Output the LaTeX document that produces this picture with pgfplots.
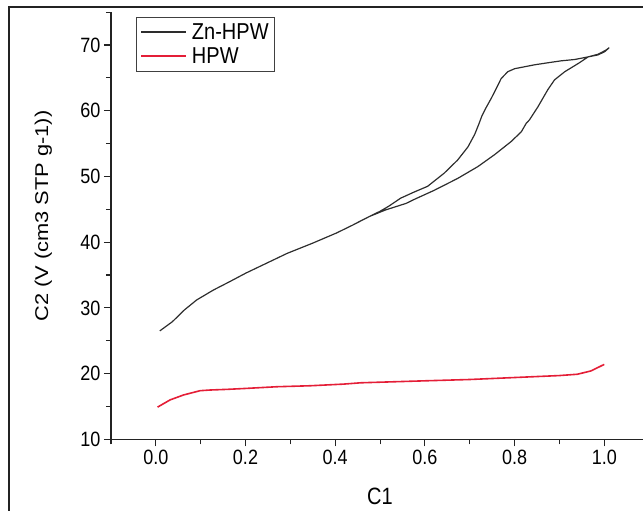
\documentclass[border=0pt]{standalone}
\usepackage{fontspec}
\setmainfont{Liberation Sans}
\usepackage{graphicx}
\usepackage{pgfplots}
\pgfplotsset{compat=1.18}

\definecolor{curvegray}{RGB}{45,45,45}
\definecolor{curvered}{RGB}{228,30,55}
\definecolor{framegray}{RGB}{35,35,35}

% the screenshot is stretched a little in height
\newcommand{\tall}[1]{\scalebox{1}[1.15]{#1}}

\begin{document}
\begin{tikzpicture}
\useasboundingbox (0,0) rectangle (643pt,511pt);
\clip (0,0) rectangle (643pt,511pt);
% outer frame of the screenshot
\draw[framegray, line width=1.6pt] (9pt,-5pt) -- (9pt,504pt) -- (660pt,504pt);
\begin{axis}[
  scale only axis,
  at={(110.95pt,71.7pt)}, anchor=south west,
  width=538.2pt, height=427.1pt,
  xmin=-0.1, xmax=1.1, ymin=10, ymax=75,
  axis x line*=bottom, axis y line*=left,
  axis line style={line width=1.1pt, framegray},
  tick align=outside,
  xtick={0,0.2,...,1.0},
  minor xtick={-0.1,0.1,0.3,0.5,0.7,0.9,1.1},
  ytick={10,20,...,70},
  minor ytick={15,25,...,75},
  major tick length=7pt, minor tick length=5pt,
  tick style={line width=1.1pt, framegray},
  xticklabel={\tall{\pgfmathprintnumber[fixed,fixed zerofill,precision=1,assume math mode=true]{\tick}}},
  yticklabel={\tall{\pgfmathprintnumber[assume math mode=true]{\tick}}},
  tick label style={font=\fontsize{18}{20}\selectfont},
  legend style={at={(0.0465,0.989)}, anchor=north west, draw=black!75,
                line width=0.8pt, font=\fontsize{20}{22}\selectfont,
                inner xsep=4pt, inner ysep=4pt, row sep=3pt,
                nodes={inner sep=2pt},
                /tikz/every odd column/.append style={column sep=3pt}},
  legend cell align=left,
  legend image code/.code={\draw[#1] (0pt,0pt) -- (45pt,0pt);},
]
\addplot[curvegray, line width=1.2pt] coordinates {
  (0.009,26.5) (0.037,27.9) (0.064,29.7) (0.091,31.2) (0.128,32.7)
  (0.165,34.0) (0.201,35.3) (0.247,36.8) (0.293,38.3) (0.348,39.8)
  (0.403,41.4) (0.439,42.6) (0.476,43.9) (0.512,44.9) (0.558,45.9)
  (0.576,46.5) (0.621,47.9) (0.673,49.7) (0.718,51.5) (0.755,53.3)
  (0.792,55.3) (0.815,56.8) (0.826,58.1) (0.833,58.6) (0.852,60.6)
  (0.874,63.2) (0.889,64.7) (0.912,65.95) (0.942,67.2) (0.964,68.2)
  (0.986,68.5) (1.001,69.0) (1.011,69.6)
  (1.003,69.2) (0.986,68.6) (0.964,68.2) (0.934,67.8) (0.904,67.6)
  (0.874,67.3) (0.845,67.0) (0.800,66.4) (0.785,65.95) (0.770,64.9)
  (0.760,63.5) (0.748,61.9) (0.735,60.3) (0.727,59.2) (0.721,58.1)
  (0.711,56.4) (0.696,54.5) (0.673,52.5) (0.643,50.5) (0.606,48.5)
  (0.575,47.6) (0.546,46.7) (0.520,45.5) (0.500,44.7) (0.476,43.9)
  (0.450,43.0)
};
\addlegendentry{\tall{Zn-HPW}}
\addplot[curvered, line width=1.6pt] coordinates {
  (0.004,14.9) (0.032,16.0) (0.062,16.75) (0.099,17.4) (0.121,17.5)
  (0.159,17.6) (0.203,17.75) (0.270,18.0) (0.345,18.15) (0.419,18.4)
  (0.457,18.6) (0.600,18.9) (0.700,19.1) (0.800,19.4) (0.900,19.7)
  (0.940,19.9) (0.970,20.4) (1.000,21.4)
};
\addlegendentry{\tall{HPW}}
\end{axis}
\node[rotate=90, anchor=base, font=\fontsize{18.5}{22}\selectfont, inner sep=0pt]
  at (48pt,295pt) {\scalebox{1.18}[1]{C2 (V (cm3 STP g-1))}};
\node[anchor=base, font=\fontsize{20}{24}\selectfont, inner sep=0pt]
  at (380pt,6pt) {\scalebox{1}[1.18]{C1}};
\end{tikzpicture}
\end{document}
